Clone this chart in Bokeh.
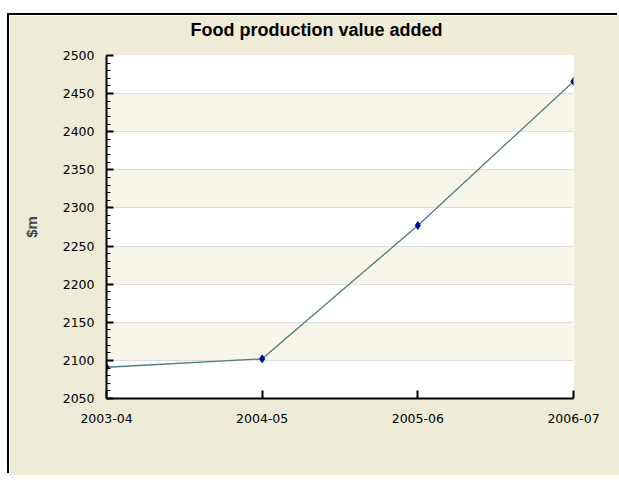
from bokeh.plotting import figure
from bokeh.models import Range1d, FixedTicker, Title
from bokeh.embed import file_html
from bokeh.resources import INLINE

title_text = "Food production value added"
years = ["2003-04", "2004-05", "2005-06", "2006-07"]
values = [2091, 2102, 2277, 2466]
y_ticks = [2050, 2100, 2150, 2200, 2250, 2300, 2350, 2400, 2450, 2500]
x_pos = list(range(len(years)))

BG = "#EEEBD6"
BAND = "#F7F5EA"

p = figure(width=610, height=460, output_backend="svg", toolbar_location=None,
           x_range=Range1d(0, len(years) - 1), y_range=Range1d(y_ticks[0], y_ticks[-1]),
           min_border_left=97, min_border_right=46, min_border_top=40, min_border_bottom=77)
p.margin = (15, 0, 0, 9)
p.styles = {"box-shadow": "-2px -2px 0px 0px black"}
p.border_fill_color = BG
p.background_fill_color = "white"
p.outline_line_color = None

# spacer title (nearest the frame) lifts the real title up
p.add_layout(Title(text=" ", text_font_size="1px", standoff=13), "above")
p.add_layout(Title(text=title_text, align="left", offset=84, standoff=0,
                   text_font="Liberation Sans", text_font_size="18px",
                   text_font_style="bold", text_color="black"), "above")

p.xaxis.ticker = FixedTicker(ticks=x_pos)
p.xaxis.major_label_overrides = {i: y for i, y in enumerate(years)}
p.yaxis.ticker = FixedTicker(ticks=y_ticks, minor_ticks=list(range(2050, 2501, 10)))

for ax in (p.xaxis, p.yaxis):
    ax.axis_line_color = "black"
    ax.axis_line_width = 2
    ax.major_tick_line_color = "black"
    ax.major_tick_line_width = 2
    ax.minor_tick_line_color = "black"
    ax.major_tick_out = 0
    ax.minor_tick_out = 0
    ax.major_label_text_font = "DejaVu Sans"
    ax.major_label_text_font_size = "12.5px"
    ax.major_label_text_color = "black"

p.xaxis.major_tick_in = 8
p.xaxis.minor_tick_line_color = None
p.xaxis.major_label_standoff = 15
p.yaxis.major_tick_in = 7
p.yaxis.minor_tick_in = 4
p.yaxis.major_label_standoff = 12
p.yaxis.axis_label = "$m"
p.yaxis.axis_label_text_font = "Liberation Sans"
p.yaxis.axis_label_text_font_size = "15px"
p.yaxis.axis_label_text_font_style = "bold"
p.yaxis.axis_label_standoff = 20

p.xgrid.grid_line_color = None
p.ygrid.ticker = FixedTicker(ticks=y_ticks)
p.ygrid.grid_line_color = "#DDDDDD"
p.ygrid.band_fill_color = BAND
p.ygrid.band_fill_alpha = 1.0

p.line(x_pos, values, line_color="#4F7C7A", line_width=1.3)
p.scatter(x_pos, values, marker="diamond", size=8, fill_color="#0000CC", line_color="#000066", line_width=0.8)

open("out.html", "w").write(file_html(p, INLINE))
